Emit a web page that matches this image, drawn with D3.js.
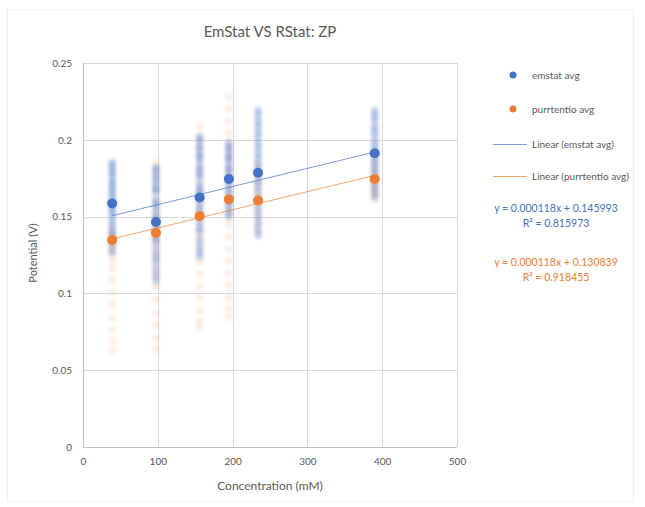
<!DOCTYPE html>
<html>
<head>
<meta charset="utf-8">
<script src="https://cdnjs.cloudflare.com/ajax/libs/d3/7.8.5/d3.min.js"></script>
<style>
  body { margin: 0; background: #fff; }
  text { font-family: Lato, "Open Sans", sans-serif; }
</style>
</head>
<body>
<div id="chart"></div>
<script>
// data
var concentrations = [39, 97.5, 156, 195, 234, 390];
var emstatAvg = [0.1585, 0.1465, 0.1625, 0.1745, 0.1785, 0.1912];
var purrAvg = [0.1348, 0.1395, 0.1503, 0.1612, 0.1605, 0.1745];

// raw readings behind each average (one list per concentration)
var emstatRaw = [
  [0.185, 0.183, 0.180, 0.178, 0.175, 0.172, 0.170, 0.167, 0.165, 0.162, 0.160, 0.158, 0.155, 0.153, 0.150, 0.147, 0.144, 0.141, 0.138, 0.135, 0.131, 0.127],
  [0.182, 0.180, 0.177, 0.174, 0.171, 0.168, 0.166, 0.161, 0.158, 0.156, 0.152, 0.149, 0.147, 0.143, 0.139, 0.136, 0.133, 0.128, 0.124, 0.121, 0.116, 0.112, 0.108],
  [0.202, 0.199, 0.196, 0.193, 0.190, 0.188, 0.184, 0.181, 0.178, 0.176, 0.171, 0.168, 0.166, 0.162, 0.158, 0.155, 0.152, 0.147, 0.143, 0.140, 0.135, 0.131, 0.127, 0.124],
  [0.198, 0.195, 0.193, 0.190, 0.188, 0.185, 0.182, 0.180, 0.177, 0.174, 0.171, 0.168, 0.165, 0.162, 0.159, 0.156, 0.153, 0.150],
  [0.219, 0.216, 0.212, 0.209, 0.205, 0.202, 0.198, 0.195, 0.191, 0.188, 0.184, 0.181, 0.177, 0.173, 0.170, 0.166, 0.162, 0.158, 0.154, 0.150, 0.146, 0.142, 0.138],
  [0.219, 0.216, 0.213, 0.209, 0.206, 0.203, 0.199, 0.196, 0.193, 0.190, 0.187, 0.184, 0.181, 0.178, 0.175, 0.172, 0.169, 0.166, 0.163]
];
var purrRaw = [
  [0.141, 0.139, 0.137, 0.135, 0.133, 0.131, 0.128, 0.125, 0.121, 0.116, 0.109, 0.101, 0.093, 0.084, 0.076, 0.069, 0.063],
  [0.185, 0.176, 0.168, 0.160, 0.153, 0.147, 0.143, 0.140, 0.137, 0.134, 0.130, 0.125, 0.119, 0.112, 0.104, 0.096, 0.087, 0.079, 0.071, 0.064],
  [0.208, 0.201, 0.194, 0.187, 0.180, 0.173, 0.166, 0.160, 0.155, 0.151, 0.147, 0.142, 0.136, 0.129, 0.121, 0.113, 0.105, 0.097, 0.089, 0.082, 0.078],
  [0.228, 0.220, 0.212, 0.204, 0.196, 0.188, 0.180, 0.173, 0.167, 0.162, 0.158, 0.152, 0.145, 0.137, 0.129, 0.121, 0.113, 0.105, 0.097, 0.090, 0.085],
  [0.185, 0.178, 0.172, 0.167, 0.163, 0.159, 0.155, 0.150, 0.145, 0.140],
  [0.186, 0.182, 0.179, 0.176, 0.173, 0.170, 0.167, 0.164, 0.161]
];

// trendlines as printed on the chart
var emstatFit = {slope: 0.000118, intercept: 0.145993, r2: "0.815973"};
var purrFit = {slope: 0.000118, intercept: 0.130839, r2: "0.918455"};

var xTicks = [0, 100, 200, 300, 400, 500];
var yTicks = [0, 0.05, 0.1, 0.15, 0.2, 0.25];

var blue = "#4472C4", orange = "#ED7D31", grey = "#595959";

var W = 645, H = 507;
var svg = d3.select("#chart").append("svg")
    .attr("width", W)
    .attr("height", H);

// soft blur so the stacked raw markers read as streaks
svg.append("defs").append("filter")
    .attr("id", "soft")
    .attr("x", "-50%").attr("y", "-10%")
    .attr("width", "200%").attr("height", "120%")
  .append("feGaussianBlur")
    .attr("stdDeviation", 1.4);

// outer chart frame
svg.append("rect")
  .attr("x", 7.5).attr("y", 9.5)
  .attr("width", 626).attr("height", 492)
  .attr("fill", "#fff")
  .attr("stroke", "#ededed");

var x = d3.scaleLinear().domain([0, 500]).range([83, 457]);
var y = d3.scaleLinear().domain([0, 0.25]).range([447, 63]);

// gridlines
svg.append("g")
  .selectAll("line.h")
  .data(yTicks)
  .enter().append("line")
    .attr("x1", x(0)).attr("x2", x(500))
    .attr("y1", function(d) { return Math.round(y(d)) + 0.5 })
    .attr("y2", function(d) { return Math.round(y(d)) + 0.5 })
    .attr("stroke", function(d) { return d == 0 ? "#bfbfbf" : "#d9d9d9" });

svg.append("g")
  .selectAll("line.v")
  .data(xTicks)
  .enter().append("line")
    .attr("y1", y(0)).attr("y2", y(0.25))
    .attr("x1", function(d) { return Math.round(x(d)) + 0.5 })
    .attr("x2", function(d) { return Math.round(x(d)) + 0.5 })
    .attr("stroke", function(d) { return d == 0 ? "#bfbfbf" : "#d9d9d9" });

// axes (labels only, lines come from the grid)
var xAxis = svg.append("g")
  .attr("transform", "translate(0," + y(0) + ")")
  .call(d3.axisBottom(x).tickValues(xTicks).tickSize(0).tickPadding(11));
var yAxis = svg.append("g")
  .attr("transform", "translate(" + x(0) + ",0)")
  .call(d3.axisLeft(y).tickValues(yTicks).tickSize(0).tickPadding(11)
    .tickFormat(function(d) { return String(+d.toFixed(2)) }));
[xAxis, yAxis].forEach(function(a) {
  a.select(".domain").remove();
  a.selectAll("text")
    .attr("fill", grey)
    .style("font-size", "10px")
    .style("font-family", "Lato, sans-serif");
});

// raw readings, faint
function rawPoints(raw, color, op) {
  var pts = [];
  raw.forEach(function(list, i) {
    list.forEach(function(v) { pts.push({c: concentrations[i], v: v}) });
  });
  svg.append("g")
    .attr("filter", "url(#soft)")
    .selectAll("circle")
    .data(pts)
    .enter().append("circle")
      .attr("cx", function(d) { return x(d.c) })
      .attr("cy", function(d) { return y(d.v) })
      .attr("r", 4)
      .attr("fill", color)
      .attr("fill-opacity", op);
}
rawPoints(purrRaw, orange, 0.13);
rawPoints(emstatRaw, blue, 0.3);

// trendlines over the data range
function trend(fit, color) {
  var x0 = d3.min(concentrations), x1 = d3.max(concentrations);
  svg.append("line")
    .attr("x1", x(x0)).attr("y1", y(fit.slope * x0 + fit.intercept))
    .attr("x2", x(x1)).attr("y2", y(fit.slope * x1 + fit.intercept))
    .attr("stroke", color)
    .attr("stroke-opacity", 0.7)
    .attr("stroke-width", 1);
}
trend(emstatFit, blue);
trend(purrFit, orange);

// averages
function avgPoints(vals, color) {
  svg.append("g")
    .selectAll("circle")
    .data(vals)
    .enter().append("circle")
      .attr("cx", function(d, i) { return x(concentrations[i]) })
      .attr("cy", function(d) { return y(d) })
      .attr("r", 5)
      .attr("fill", color);
}
avgPoints(purrAvg, orange);
avgPoints(emstatAvg, blue);

// title and axis titles
svg.append("text")
  .attr("x", 270).attr("y", 37)
  .attr("text-anchor", "middle")
  .attr("fill", grey)
  .style("font-size", "15px")
  .text("EmStat VS RStat: ZP");

svg.append("text")
  .attr("x", 270).attr("y", 490)
  .attr("text-anchor", "middle")
  .attr("fill", grey)
  .style("font-size", "12px")
  .text("Concentration (mM)");

svg.append("text")
  .attr("transform", "translate(37,253) rotate(-90)")
  .attr("text-anchor", "middle")
  .attr("fill", grey)
  .style("font-size", "11px")
  .text("Potential (V)");

// legend
var legend = svg.append("g");
legend.append("circle").attr("cx", 513).attr("cy", 75).attr("r", 3.5).attr("fill", blue);
legend.append("circle").attr("cx", 513).attr("cy", 109).attr("r", 3.5).attr("fill", orange);
legend.append("line").attr("x1", 493).attr("x2", 527).attr("y1", 144.5).attr("y2", 144.5)
  .attr("stroke", blue).attr("stroke-opacity", 0.7);
legend.append("line").attr("x1", 493).attr("x2", 527).attr("y1", 176.5).attr("y2", 176.5)
  .attr("stroke", orange).attr("stroke-opacity", 0.7);
var legendLabels = ["emstat avg", "purrtentio avg", "Linear (emstat avg)", "Linear (purrtentio avg)"];
var legendY = [75, 109, 144, 176];
legend.selectAll("text")
  .data(legendLabels)
  .enter().append("text")
    .attr("x", 532)
    .attr("y", function(d, i) { return legendY[i] })
    .attr("dy", "0.35em")
    .attr("fill", grey)
    .style("font-size", "10px")
    .text(function(d) { return d });

// trendline equations
function eq(fit, color, y0) {
  var t = svg.append("text")
    .attr("x", 556).attr("y", y0)
    .attr("text-anchor", "middle")
    .attr("fill", color)
    .style("font-size", "10.5px");
  t.append("tspan").attr("x", 556)
    .text("y = " + fit.slope.toFixed(6) + "x + " + fit.intercept.toFixed(6));
  t.append("tspan").attr("x", 556).attr("dy", 15)
    .text("R² = " + fit.r2);
}
eq(emstatFit, blue, 212);
eq(purrFit, orange, 266);
</script>
</body>
</html>
